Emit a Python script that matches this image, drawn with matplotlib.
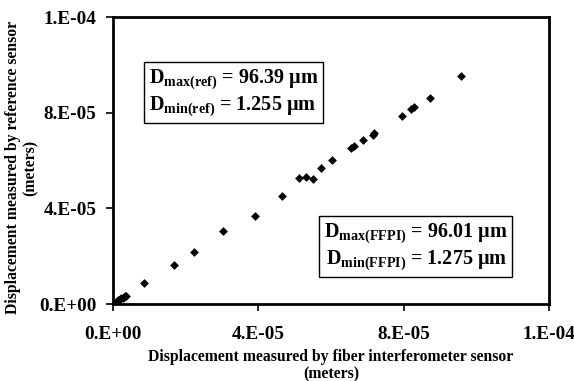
import matplotlib
matplotlib.use("Agg")
import matplotlib.pyplot as plt

# fiber interferometer (FFPI) reading vs reference sensor reading, meters
ffpi_disp = [1.1e-6, 1.4e-6, 1.7e-6, 2.0e-6, 2.3e-6, 2.6e-6, 2.9e-6, 3.2e-6, 3.6e-6,
             8.6e-6, 1.68e-5, 2.23e-5, 3.02e-5, 3.90e-5, 4.64e-5,
             5.12e-5, 5.31e-5, 5.51e-5, 5.73e-5, 6.04e-5, 6.54e-5, 6.63e-5,
             6.88e-5, 7.16e-5, 7.20e-5, 7.95e-5, 8.21e-5, 8.29e-5, 8.72e-5, 9.59e-5]
ref_disp = [1.25e-6, 1.5e-6, 1.8e-6, 2.1e-6, 2.4e-6, 2.7e-6, 3.0e-6, 3.3e-6, 3.5e-6,
            8.6e-6, 1.64e-5, 2.19e-5, 3.06e-5, 3.67e-5, 4.50e-5,
            5.26e-5, 5.31e-5, 5.24e-5, 5.68e-5, 6.04e-5, 6.51e-5, 6.61e-5,
            6.86e-5, 7.08e-5, 7.17e-5, 7.87e-5, 8.15e-5, 8.25e-5, 8.61e-5, 9.55e-5]

tick_vals = [0, 4e-5, 8e-5, 1.2e-4]
tick_labels = ["0.E+00", "4.E-05", "8.E-05", "1.E-04"]

ref_label = ["$\\mathbf{D_{max(ref)}}$ = 96.39 µm", "$\\mathbf{D_{min(ref)}}$ = 1.255 µm"]
ffpi_label = ["$\\mathbf{D_{max(FFPI)}}$ = 96.01 µm", "$\\mathbf{D_{min(FFPI)}}$ = 1.275 µm"]

plt.rcParams['font.family'] = ['Liberation Serif', 'DejaVu Serif']
plt.rcParams['font.weight'] = 'bold'
plt.rcParams['mathtext.fontset'] = 'custom'
plt.rcParams['mathtext.rm'] = 'Liberation Serif:bold'
plt.rcParams['mathtext.bf'] = 'Liberation Serif:bold'
plt.rcParams['mathtext.it'] = 'Liberation Serif:bold'

fig = plt.figure(figsize=(5.74, 3.81), dpi=100)
ax = fig.add_axes([0.197, 0.202, 0.759, 0.753])

ax.scatter(ffpi_disp, ref_disp, marker='D', s=20, color='black', linewidths=0, zorder=3)

ax.set_xlim(0, 1.2e-4)
ax.set_ylim(0, 1.2e-4)
ax.set_xticks(tick_vals)
ax.set_xticklabels(tick_labels)
ax.set_yticks(tick_vals)
ax.set_yticklabels(tick_labels)
ax.tick_params(direction='out', length=5, width=1.2, labelsize=13.8)
ax.tick_params(axis='x', pad=11)
ax.tick_params(axis='y', pad=7)

for sp in ax.spines.values():
    sp.set_linewidth(2)

ax.set_xlabel("Displacement measured by fiber interferometer sensor\n(meters)",
              fontsize=11.3, fontweight='bold', linespacing=1.1, labelpad=4)
ax.set_ylabel("Displacement measured by reference sensor\n(meters)",
              fontsize=11.3, fontweight='bold', linespacing=1.1)
ax.yaxis.set_label_coords(-0.172, 0.475)

box = dict(boxstyle='square,pad=0.25', facecolor='white', edgecolor='black', linewidth=1)
ax.text(0.082, 0.825, "\n".join(ref_label), transform=ax.transAxes, ha='left', va='top',
        fontsize=14.5, fontweight='bold', linespacing=1.2, bbox=box)
ax.text(0.905, 0.113, "\n".join(ffpi_label), transform=ax.transAxes, ha='right', va='bottom',
        fontsize=14.5, fontweight='bold', linespacing=1.2, bbox=box)

fig.savefig("out.png", dpi=100)
